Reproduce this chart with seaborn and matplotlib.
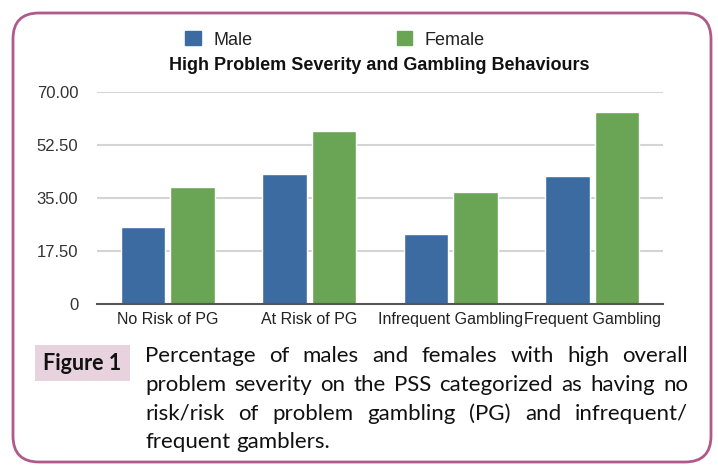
import pandas as pd
import numpy as np
import matplotlib
matplotlib.use("Agg")
import matplotlib.pyplot as plt
import seaborn as sns
from matplotlib.patches import FancyBboxPatch, Patch
from matplotlib.transforms import IdentityTransform

# DATA
categories = ["No Risk of PG", "At Risk of PG", "Infrequent Gambling", "Frequent Gambling"]
male = [25.4, 42.9, 23.2, 42.1]
female = [38.5, 57.1, 37.1, 63.3]
groups = ["Male", "Female"]
y_ticks = [0, 17.5, 35, 52.5, 70]
y_labels = ["0", "17.50", "35.00", "52.50", "70.00"]

title = "High Problem Severity and Gambling Behaviours"
fig_label = "Figure 1"
caption_lines = [
    "Percentage of males and females with high overall",
    "problem severity on the PSS categorized as having no",
    "risk/risk of problem gambling (PG) and infrequent/",
    "frequent gamblers.",
]

df = pd.DataFrame({
    "categorie": categories * 2,
    "valeur": male + female,
    "sexe": [groups[0]] * len(male) + [groups[1]] * len(female),
})

colors = {"Male": "#3b6ba0", "Female": "#6aa455"}

sns.set_style("white")
plt.rcParams["font.family"] = ["Liberation Sans", "DejaVu Sans"]

W, H = 718, 466
fig = plt.figure(figsize=(W / 100, H / 100), dpi=100)

# axes en pixels
x0, x1, ytop, ybot = 97, 663, 92, 304
ax = fig.add_axes([x0 / W, 1 - ybot / H, (x1 - x0) / W, (ybot - ytop) / H])

sns.barplot(data=df, x="categorie", y="valeur", hue="sexe", palette=colors,
            width=0.7, gap=0.1, ax=ax, legend=False, saturation=1)

ax.set_ylim(0, 70)
ax.set_xlim(-0.5, 3.5)
ax.set_yticks(y_ticks)
ax.set_yticklabels(y_labels, fontsize=12, color="#333333")
ax.tick_params(axis="x", labelsize=11.5, colors="#222222", length=0, pad=6)
ax.tick_params(axis="y", length=0, pad=13.5)
ax.set_xlabel("")
ax.set_ylabel("")
for t in y_ticks[1:]:
    ax.axhline(t, color="#d4d4d4", lw=1.5, zorder=0)
for s in ["top", "right", "left"]:
    ax.spines[s].set_visible(False)
ax.spines["bottom"].set_color("#555555")
ax.spines["bottom"].set_linewidth(1.5)

# LEGENDE
handles = [Patch(color=colors[g]) for g in groups]
fig.legend(handles, groups, loc="center", bbox_to_anchor=(335 / W, 1 - 40 / H),
           ncol=2, frameon=False, fontsize=13, handlelength=0.85, handleheight=0.8,
           handletextpad=0.7, columnspacing=8, labelcolor="#222222")

fig.text(379.5 / W, 1 - 65 / H, title, ha="center", va="center",
         fontsize=13, fontweight="bold", color="#111111")

# CADRE
border = FancyBboxPatch((13, 4), 698, 449, boxstyle="round,pad=0,rounding_size=26",
                        transform=IdentityTransform(), fill=False,
                        edgecolor="#b05a8c", linewidth=2)
fig.add_artist(border)

# FIGURE 1
lab = FancyBboxPatch((35, H - 381), 95, 36, boxstyle="square,pad=0",
                     transform=IdentityTransform(), facecolor="#e8d2de",
                     edgecolor="none")
fig.add_artist(lab)
fig.text(82.5 / W, 1 - 363 / H, fig_label, ha="center", va="center",
         fontsize=15.5, fontweight="bold", family=["Lato", "DejaVu Sans"], color="#111111")

# texte justifie
renderer = fig.canvas.get_renderer()
cx0, cx1 = 145, 688
baselines = [362, 391, 420, 448]
cap_kw = dict(fontsize=16, family=["Lato", "DejaVu Sans"], color="#111111",
              va="baseline", ha="left")
for i, line in enumerate(caption_lines):
    words = line.split(" ")
    texts = [fig.text(0, 1 - baselines[i] / H, w, **cap_kw) for w in words]
    widths = [t.get_window_extent(renderer).width for t in texts]
    if i < len(caption_lines) - 1 and len(words) > 1:
        space = (cx1 - cx0 - sum(widths)) / (len(words) - 1)
    else:
        sp = fig.text(0, 0, "a a", **cap_kw)
        sp2 = fig.text(0, 0, "aa", **cap_kw)
        space = sp.get_window_extent(renderer).width - sp2.get_window_extent(renderer).width
        sp.remove()
        sp2.remove()
    x = cx0
    for t, w in zip(texts, widths):
        t.set_x(x / W)
        x += w + space

fig.savefig("out.png", dpi=100)
